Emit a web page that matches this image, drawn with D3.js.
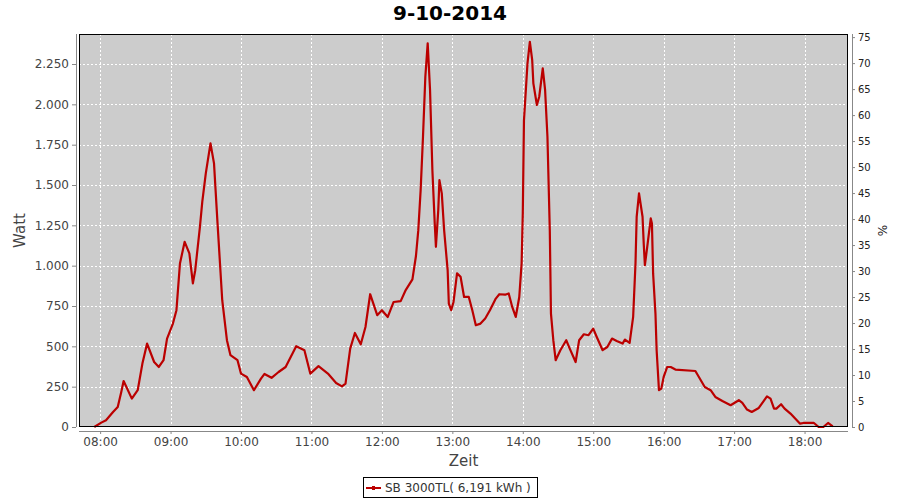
<!DOCTYPE html>
<html><head><meta charset="utf-8">
<script src="https://cdn.jsdelivr.net/npm/d3@7"></script>
<style>
body{margin:0;background:#fff;}
svg{display:block;font-family:"DejaVu Sans",sans-serif;}
</style></head>
<body><svg id="c" width="900" height="500"></svg>
<script>
const title = "9-10-2014";
const seriesName = "SB 3000TL( 6,191 kWh )";
const times = ["07:55","08:01","08:05","08:11","08:15","08:18","08:20","08:27","08:32","08:36","08:40","08:46","08:50","08:54","08:57","09:02","09:05","09:08","09:12","09:16","09:19","09:21","09:25","09:27","09:30","09:34","09:37","09:40","09:44","09:48","09:51","09:57","10:00","10:05","10:11","10:17","10:20","10:26","10:32","10:38","10:47","10:54","10:59","11:06","11:14","11:21","11:26","11:29","11:33","11:37","11:42","11:46","11:50","11:56","12:00","12:05","12:10","12:16","12:20","12:26","12:29","12:31","12:33","12:35","12:37","12:39","12:41","12:43","12:45","12:46","12:48","12:49","12:51","12:53","12:56","12:57","12:59","13:01","13:04","13:07","13:10","13:14","13:17","13:20","13:24","13:28","13:32","13:37","13:40","13:45","13:48","13:51","13:54","13:57","13:59","14:00","14:01","14:04","14:06","14:08","14:09","14:12","14:14","14:17","14:19","14:21","14:23","14:24","14:26","14:28","14:32","14:37","14:40","14:45","14:48","14:52","14:56","15:00","15:03","15:08","15:12","15:16","15:20","15:25","15:27","15:31","15:34","15:36","15:37","15:39","15:42","15:43","15:44","15:46","15:49","15:50","15:51","15:53","15:54","15:56","15:58","16:00","16:03","16:06","16:10","16:27","16:30","16:35","16:40","16:44","16:50","16:57","17:04","17:07","17:11","17:15","17:21","17:28","17:31","17:34","17:36","17:40","17:43","17:48","17:52","17:56","17:59","18:08","18:12","18:16","18:20","18:24"];
const watts = [0,27,42,93,124,217,285,176,228,393,517,403,372,414,548,641,724,1014,1148,1076,890,972,1241,1396,1572,1758,1634,1262,786,538,445,414,331,310,228,300,329,305,341,372,501,476,331,377,331,273,252,269,486,583,513,620,823,693,724,682,775,780,845,915,1060,1220,1468,1799,2171,2378,2089,1592,1262,1117,1344,1530,1448,1220,972,765,724,775,952,931,806,806,724,631,641,672,724,796,823,820,828,744,682,806,1014,1324,1900,2254,2388,2275,2130,1996,2047,2223,2089,1799,1220,703,538,414,476,538,486,403,538,575,569,610,558,476,496,548,533,517,542,521,682,1014,1303,1448,1303,1138,1003,1117,1293,1262,952,703,476,228,238,310,372,372,356,347,310,248,228,186,161,135,166,149,108,93,118,190,176,114,114,141,114,83,52,21,25,25,0,0,25,4];
const wattTicks = [0,250,500,750,1000,1250,1500,1750,2000,2250];
const pctTicks = [0,5,10,15,20,25,30,35,40,45,50,55,60,65,70,75];
const hourTicks = ["08:00","09:00","10:00","11:00","12:00","13:00","14:00","15:00","16:00","17:00","18:00"];

const parse = s => { const [h,m] = s.split(":").map(Number); return new Date(2014,9,9,h,m); };
const data = times.map((t,i)=>({t:parse(t), w:watts[i]}));

const L=79, R=848, T=34, B=427;
const svg = d3.select("#c");
const x = d3.scaleTime().domain([parse("07:42"), parse("18:37")]).range([L,R]);
const y = d3.scaleLinear().domain([0,2436]).range([B,T]);
const y2 = d3.scaleLinear().domain([0,75.6]).range([B,T]);
const fmtW = d => d3.format(",")(d).replace(/,/g,".");

svg.append("rect").attr("x",L).attr("y",T).attr("width",R-L).attr("height",B-T).attr("fill","#cccccc");

// grid
const g = svg.append("g");
g.selectAll(".vg").data(hourTicks.map(parse)).join("line")
  .attr("x1",d=>Math.round(x(d))+0.5).attr("x2",d=>Math.round(x(d))+0.5).attr("y1",T).attr("y2",B)
  .attr("stroke","#fff").attr("stroke-dasharray","2,2").attr("stroke-width",1);
g.selectAll(".hg").data(wattTicks.slice(1)).join("line")
  .attr("x1",L).attr("x2",R).attr("y1",d=>Math.round(y(d))+0.5).attr("y2",d=>Math.round(y(d))+0.5)
  .attr("stroke","#fff").attr("stroke-dasharray","2,2").attr("stroke-width",1);

// line
const line = d3.line().x(d=>x(d.t)).y(d=>y(d.w));
svg.append("path").datum(data).attr("d",line).attr("fill","none")
  .attr("stroke","#bb0000").attr("stroke-width",2.2).attr("stroke-linejoin","round");

svg.append("rect").attr("x",L+0.5).attr("y",T+0.5).attr("width",R-L-1).attr("height",B-T-1)
  .attr("fill","none").attr("stroke","#000").attr("stroke-width",1);

// axes
const axL = svg.append("g").attr("transform",`translate(${L-3},0)`)
  .call(d3.axisLeft(y).tickValues(wattTicks).tickFormat(fmtW).tickSize(4).tickPadding(3).tickSizeOuter(0));
axL.select(".domain").attr("stroke","#888").attr("d",`M0.5,${T}V${B}`);
axL.selectAll(".tick line").attr("stroke","#888");
axL.selectAll("text").attr("font-size",12).attr("fill","#444").attr("font-family","DejaVu Sans");

const axR = svg.append("g").attr("transform",`translate(${R+4},0)`)
  .call(d3.axisRight(y2).tickValues(pctTicks).tickSize(3).tickPadding(3).tickSizeOuter(0));
axR.select(".domain").attr("stroke","#888").attr("d",`M0.5,${T}V${B}`);
axR.selectAll(".tick line").attr("stroke","#888");
axR.selectAll("text").attr("font-size",10).attr("fill","#222").attr("font-family","DejaVu Sans");

const axB = svg.append("g").attr("transform",`translate(0,${B+4})`)
  .call(d3.axisBottom(x).tickValues(hourTicks.map(parse)).tickFormat(d3.timeFormat("%H:%M")).tickSize(3).tickPadding(3).tickSizeOuter(0));
axB.select(".domain").attr("stroke","#888").attr("d",`M${L},0.5H${R}`);
axB.selectAll(".tick line").attr("stroke","#888");
axB.selectAll("text").attr("font-size",12).attr("fill","#444").attr("font-family","DejaVu Sans");

// labels
svg.append("text").attr("x",450).attr("y",20).attr("text-anchor","middle")
  .attr("font-size",20).attr("font-weight","bold").attr("fill","#000").text(title);
svg.append("text").attr("x",(L+R)/2).attr("y",466).attr("text-anchor","middle")
  .attr("font-size",15).attr("fill","#444").text("Zeit");
svg.append("text").attr("transform",`translate(25,${(T+B)/2}) rotate(-90)`).attr("text-anchor","middle")
  .attr("font-size",15).attr("fill","#444").text("Watt");
svg.append("text").attr("transform",`translate(887,${(T+B)/2}) rotate(-90)`).attr("text-anchor","middle")
  .attr("font-size",12).attr("fill","#222").text("%");

// legend
const lg = svg.append("g");
lg.append("rect").attr("x",363.5).attr("y",477.5).attr("width",174).attr("height",20)
  .attr("fill","#fff").attr("stroke","#000");
lg.append("line").attr("x1",366).attr("x2",381).attr("y1",488).attr("y2",488).attr("stroke","#bb0000").attr("stroke-width",2);
lg.append("rect").attr("x",372).attr("y",486).attr("width",3).attr("height",4).attr("fill","#bb0000");
lg.append("text").attr("x",385).attr("y",492).attr("font-size",12).attr("fill","#333").text(seriesName);
</script></body></html>
